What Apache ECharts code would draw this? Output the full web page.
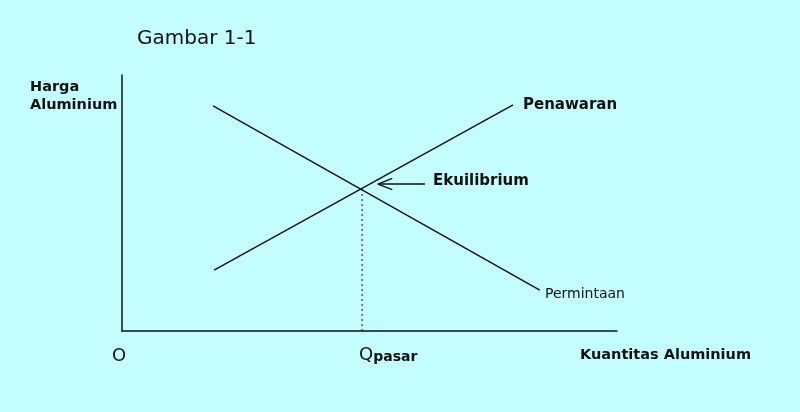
<!DOCTYPE html>
<html><head><meta charset="utf-8">
<script src="https://cdn.jsdelivr.net/npm/echarts@6/dist/echarts.min.js"></script>
<style>html,body{margin:0;padding:0;background:#c3fdfd;}#c{width:800px;height:412px;}</style>
</head><body><div id="c"></div>
<script>
// Data (abstract units 0..100 on both axes)
const supply = [[18.6, 23.8], [79.0, 88.3]];
const demand = [[18.4, 87.9], [84.4, 16.0]];
const equilibrium = [48.5, 55.5];
const qMarket = [[48.5, 0], [48.5, 55.5]];
const arrowShaft = [[61.2, 57.4], [51.7, 57.4]];
const arrowHead = [[54.6, 59.6], [51.7, 57.4], [54.6, 55.2]];
const texts = {
  title: 'Gambar 1-1', yName1: 'Harga', yName2: 'Aluminium',
  supply: 'Penawaran', demand: 'Permintaan', eq: 'Ekuilibrium',
  origin: 'O', q: 'Q', qSub: 'pasar', xName: 'Kuantitas Aluminium'
};

const chart = echarts.init(document.getElementById('c'));
const lineS = (data, extra) => Object.assign({
  type: 'line', data, symbol: 'none', silent: true, animation: false,
  lineStyle: { color: '#111', width: 1.4 }
}, extra || {});
const bold = (size) => ({ fontFamily: 'DejaVu Sans', fontWeight: 'bold', fontSize: size, fill: '#111' });
chart.setOption({
  backgroundColor: '#c3fdfd',
  animation: false,
  grid: { left: 122, right: 183, top: 75, bottom: 81 },
  xAxis: { type: 'value', min: 0, max: 100, axisLine: { onZero: false, lineStyle: { color: '#111', width: 1.5 } },
    axisTick: { show: false }, axisLabel: { show: false }, splitLine: { show: false } },
  yAxis: { type: 'value', min: 0, max: 100, axisLine: { show: true, onZero: false, lineStyle: { color: '#111', width: 1.5 } },
    axisTick: { show: false }, axisLabel: { show: false }, splitLine: { show: false } },
  series: [
    lineS(supply),
    lineS(demand),
    lineS(qMarket, { lineStyle: { color: '#111', width: 1, type: [2, 3] } }),
    lineS(arrowShaft),
    lineS(arrowHead)
  ],
  graphic: [
    { type: 'text', left: 137, top: 29, style: { text: texts.title, fontFamily: 'DejaVu Sans', fontSize: 20, fill: '#111' } },
    { type: 'text', left: 30, top: 80, style: Object.assign({ text: texts.yName1 }, bold(14.5)) },
    { type: 'text', left: 30, top: 98, style: Object.assign({ text: texts.yName2 }, bold(14.5)) },
    { type: 'text', left: 523, top: 98, style: Object.assign({ text: texts.supply }, bold(15)) },
    { type: 'text', left: 433, top: 174, style: Object.assign({ text: texts.eq }, bold(15)) },
    { type: 'text', left: 545, top: 287, style: { text: texts.demand, fontFamily: 'DejaVu Sans', fontSize: 14, fill: '#111' } },
    { type: 'text', left: 112, top: 347, style: { text: texts.origin, fontFamily: 'DejaVu Sans', fontSize: 18, fill: '#111' } },
    { type: 'text', left: 359, top: 346, style: {
        text: '{q|' + texts.q + '}{p|' + texts.qSub + '}',
        rich: { q: { fontFamily: 'DejaVu Sans', fontSize: 18, fill: '#111', verticalAlign: 'bottom' },
                p: Object.assign({ verticalAlign: 'bottom' }, bold(14)) } } },
    { type: 'text', left: 580, top: 348, style: Object.assign({ text: texts.xName }, bold(14.5)) }
  ]
});
</script></body></html>
